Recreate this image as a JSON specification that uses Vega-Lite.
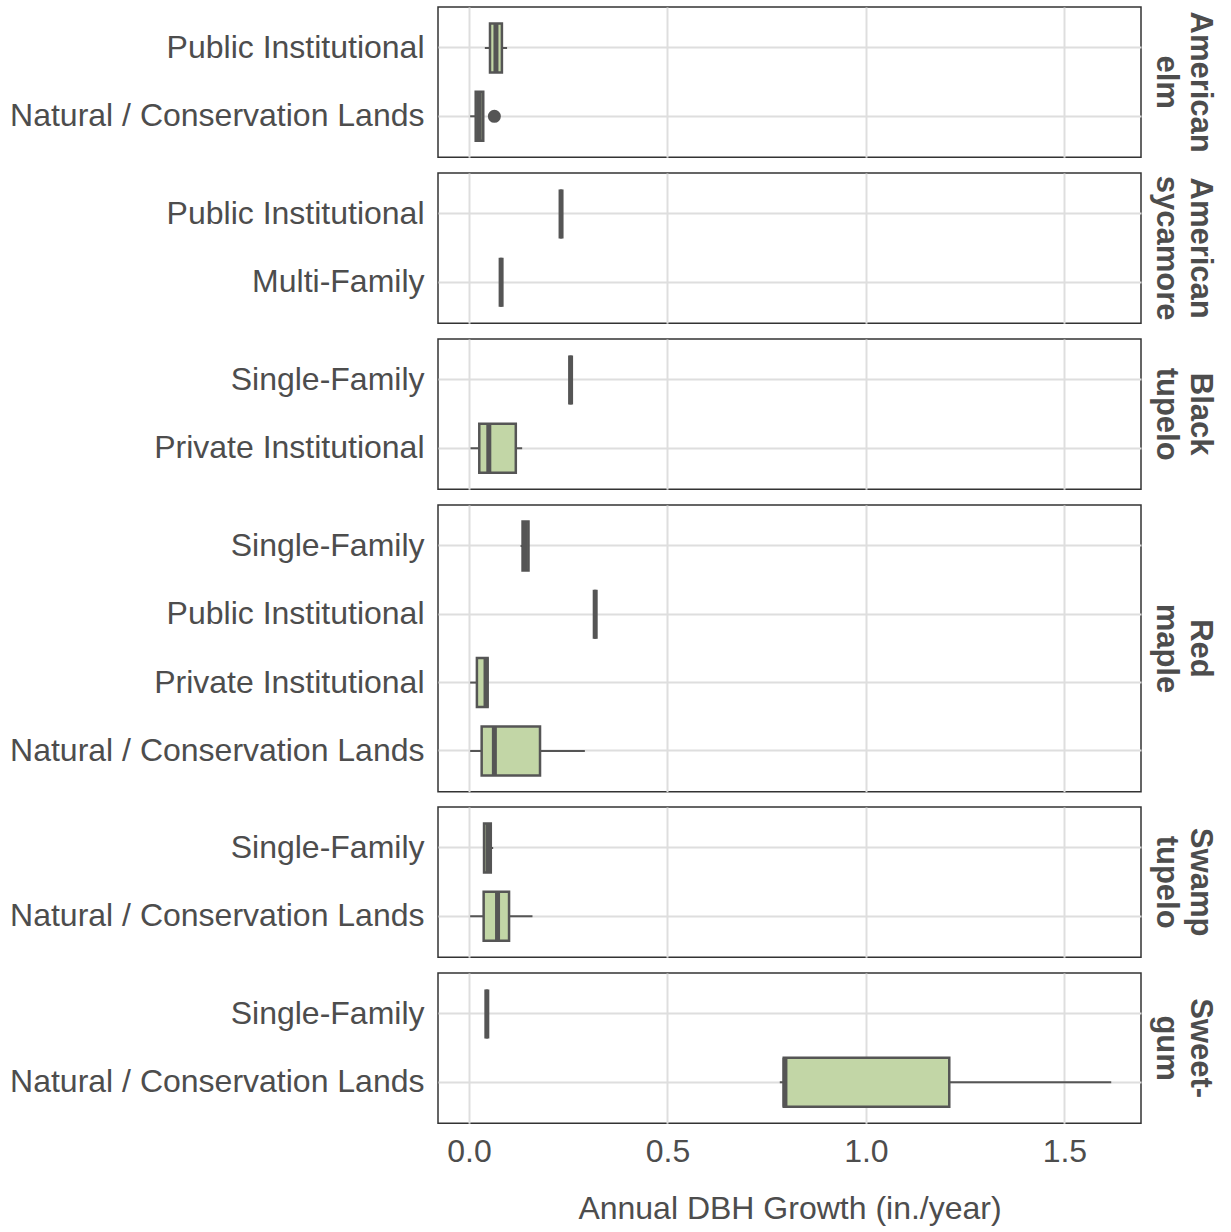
{
  "$schema": "https://vega.github.io/schema/vega-lite/v6.json",
  "padding": {"left": 8, "top": 6, "right": 5, "bottom": 5},
  "background": "white",
  "data": {
    "values": [
      {"species": "American elm", "landuse": "Public Institutional", "min": 0.040, "q1": 0.053, "median": 0.068, "q3": 0.083, "max": 0.096, "outlier": null},
      {"species": "American elm", "landuse": "Natural / Conservation Lands", "min": 0.003, "q1": 0.017, "median": 0.026, "q3": 0.036, "max": 0.036, "outlier": 0.064},
      {"species": "American sycamore", "landuse": "Public Institutional", "min": 0.232, "q1": 0.232, "median": 0.232, "q3": 0.232, "max": 0.232, "outlier": null},
      {"species": "American sycamore", "landuse": "Multi-Family", "min": 0.081, "q1": 0.081, "median": 0.081, "q3": 0.081, "max": 0.081, "outlier": null},
      {"species": "Black tupelo", "landuse": "Single-Family", "min": 0.256, "q1": 0.256, "median": 0.256, "q3": 0.256, "max": 0.256, "outlier": null},
      {"species": "Black tupelo", "landuse": "Private Institutional", "min": 0.004, "q1": 0.026, "median": 0.050, "q3": 0.118, "max": 0.134, "outlier": null},
      {"species": "Red maple", "landuse": "Single-Family", "min": 0.130, "q1": 0.135, "median": 0.142, "q3": 0.150, "max": 0.150, "outlier": null},
      {"species": "Red maple", "landuse": "Public Institutional", "min": 0.318, "q1": 0.318, "median": 0.318, "q3": 0.318, "max": 0.318, "outlier": null},
      {"species": "Red maple", "landuse": "Private Institutional", "min": 0.003, "q1": 0.020, "median": 0.043, "q3": 0.047, "max": 0.047, "outlier": null},
      {"species": "Red maple", "landuse": "Natural / Conservation Lands", "min": 0.003, "q1": 0.032, "median": 0.064, "q3": 0.179, "max": 0.292, "outlier": null},
      {"species": "Swamp tupelo", "landuse": "Single-Family", "min": 0.038, "q1": 0.038, "median": 0.048, "q3": 0.055, "max": 0.061, "outlier": null},
      {"species": "Swamp tupelo", "landuse": "Natural / Conservation Lands", "min": 0.003, "q1": 0.037, "median": 0.072, "q3": 0.101, "max": 0.160, "outlier": null},
      {"species": "Sweetgum", "landuse": "Single-Family", "min": 0.045, "q1": 0.045, "median": 0.045, "q3": 0.045, "max": 0.045, "outlier": null},
      {"species": "Sweetgum", "landuse": "Natural / Conservation Lands", "min": 0.783, "q1": 0.793, "median": 0.796, "q3": 1.210, "max": 1.618, "outlier": null}
    ]
  },
  "facet": {
    "row": {
      "field": "species",
      "type": "nominal",
      "sort": ["American elm", "American sycamore", "Black tupelo", "Red maple", "Swamp tupelo", "Sweetgum"],
      "header": {
        "title": null,
        "labelOrient": "right",
        "labelAngle": 90,
        "labelFontSize": 31,
        "labelFontWeight": "bold",
        "labelColor": "#4d4d4d",
        "labelFont": "Liberation Sans",
        "labelLineHeight": 34,
        "labelPadding": 8,
        "labelExpr": "datum.value == 'Sweetgum' ? ['Sweet-', 'gum'] : split(datum.value, ' ')"
      }
    }
  },
  "spacing": 13,
  "resolve": {"scale": {"y": "independent"}},
  "spec": {
    "width": 703,
    "height": {"step": 68.3},
    "encoding": {
      "y": {
        "field": "landuse",
        "type": "nominal",
        "sort": "descending",
        "title": null,
        "scale": {"paddingInner": 0, "paddingOuter": 0.1},
        "axis": {
          "grid": true,
          "bandPosition": 0.5,
          "ticks": false,
          "domain": false,
          "labelFontSize": 32,
          "labelColor": "#4d4d4d",
          "labelPadding": 14,
          "labelLimit": 600,
          "gridColor": "#dedede",
          "gridWidth": 2
        }
      }
    },
    "layer": [
      {
        "mark": {"type": "rule", "color": "#555555", "strokeWidth": 2},
        "encoding": {
          "x": {
            "field": "min",
            "type": "quantitative",
            "title": "Annual DBH Growth (in./year)",
            "scale": {"domain": [-0.078, 1.693], "nice": false, "zero": false},
            "axis": {
              "values": [0, 0.5, 1, 1.5],
              "format": ".1f",
              "grid": true,
              "gridColor": "#dedede",
              "gridWidth": 2,
              "ticks": false,
              "domain": false,
              "labelFontSize": 32,
              "labelColor": "#4d4d4d",
              "labelPadding": 11,
              "titleFontSize": 32,
              "titleFontWeight": "normal",
              "titleColor": "#4d4d4d",
              "titlePadding": 26
            }
          },
          "x2": {"field": "max"}
        }
      },
      {
        "mark": {"type": "bar", "fill": "#c2d6a6", "stroke": "#555555", "strokeWidth": 2.5, "size": 49},
        "encoding": {
          "x": {"field": "q1", "type": "quantitative"},
          "x2": {"field": "q3"}
        }
      },
      {
        "mark": {"type": "tick", "color": "#555555", "thickness": 5, "size": 49, "opacity": 1},
        "encoding": {
          "x": {"field": "median", "type": "quantitative"}
        }
      },
      {
        "transform": [{"filter": "datum.outlier != null"}],
        "mark": {"type": "point", "filled": true, "color": "#555555", "size": 170, "opacity": 1, "shape": "circle"},
        "encoding": {
          "x": {"field": "outlier", "type": "quantitative"}
        }
      }
    ]
  },
  "config": {
    "font": "Liberation Sans",
    "view": {"stroke": "#333333", "strokeWidth": 1.5},
    "axis": {"labelFont": "Liberation Sans", "titleFont": "Liberation Sans"}
  }
}
